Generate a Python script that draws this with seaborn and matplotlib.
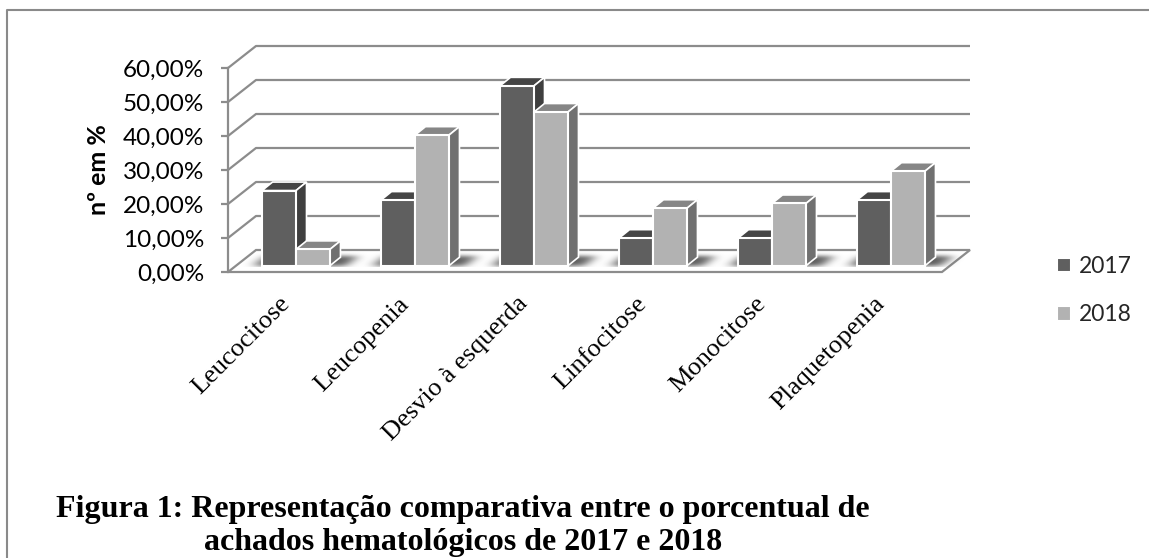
import numpy as np
import pandas as pd
import matplotlib
matplotlib.use("Agg")
import matplotlib.pyplot as plt
from matplotlib.lines import Line2D
from matplotlib.patches import Polygon
from matplotlib.transforms import ScaledTranslation
import seaborn as sns

categories = ["Leucocitose", "Leucopenia", "Desvio à esquerda",
              "Linfocitose", "Monocitose", "Plaquetopenia"]
years = ["2017", "2018"]
values_2017 = [22.1, 19.3, 52.9, 8.1, 8.1, 19.3]
values_2018 = [4.8, 38.4, 45.2, 16.9, 18.3, 27.8]
y_ticks = [0, 10, 20, 30, 40, 50, 60]
y_tick_labels = ["0,00%", "10,00%", "20,00%", "30,00%", "40,00%", "50,00%", "60,00%"]
caption_lines = ["Figura 1: Representação comparativa entre o porcentual de",
                 "achados hematológicos de 2017 e 2018"]

FRONT = {"2017": "#5f5f5f", "2018": "#b2b2b2"}
TOP = {"2017": "#454545", "2018": "#868686"}
SIDE = {"2017": "#3f3f3f", "2018": "#707070"}
GRID = "#8c8c8c"

W, H = 1149, 558
sns.set_theme(style="white")
plt.rcParams["font.family"] = ["Lato", "DejaVu Sans"]

df = pd.DataFrame({
    "categoria": categories * 2,
    "ano": [years[0]] * 6 + [years[1]] * 6,
    "valor": values_2017 + values_2018,
})

fig = plt.figure(figsize=(W / 100, H / 100), dpi=100, facecolor="white")
# Axes rectangle is the front plane of the 3D box, in pixels
L, R, T, B = 228, 942, 68, 272
ax = fig.add_axes([L / W, 1 - B / H, (R - L) / W, (B - T) / H])
ax.patch.set_alpha(0)

sns.barplot(data=df, x="categoria", y="valor", hue="ano", order=categories,
            hue_order=years, palette=FRONT, saturation=1, width=0.571, gap=0,
            edgecolor="white", linewidth=1.5, ax=ax)
ax.set_xlim(-0.5, 5.5)
ax.set_ylim(0, 60)

px_x = 1 / 119.0   # data units per pixel, horizontally
px_y = 1 / 3.4     # data units per pixel, vertically
depth_x, depth_y = 28 * px_x, 22 * px_y   # box depth
bar_dx, bar_dy = 8.5 * px_x, 6.3 * px_y   # bars stand mid-way on the floor
bar_sx, bar_sy = 10.5 * px_x, 8.5 * px_y  # bar depth

# Floor and back-wall lines
x0, x1 = -0.5, 5.5
floor = Polygon([(x0, 0), (x1, 0), (x1 + depth_x, depth_y), (x0 + depth_x, depth_y)],
                closed=True, facecolor="white", edgecolor=GRID, lw=1.6,
                clip_on=False, zorder=1)
ax.add_patch(floor)
for t in y_ticks[1:]:
    ax.plot([x0, x0 + depth_x, x1 + depth_x], [t, t + depth_y, t + depth_y],
            color=GRID, lw=1.6, clip_on=False, zorder=1.5, solid_capstyle="butt")

# Shift the seaborn bars onto the floor and extrude them
for z, year, container in zip((3, 4), years, ax.containers):
    for bar in container:
        bar.set_x(bar.get_x() + bar_dx)
        bar.set_y(bar_dy)
        bar.set_clip_on(False)
        bar.set_zorder(z + 0.5)
        xa, w, ya, h = bar.get_x(), bar.get_width(), bar.get_y(), bar.get_height()
        xb, yb = xa + w, ya + h
        top = Polygon([(xa, yb), (xb, yb), (xb + bar_sx, yb + bar_sy), (xa + bar_sx, yb + bar_sy)],
                      closed=True, facecolor=TOP[year], edgecolor="white", lw=1.2,
                      clip_on=False, zorder=z)
        side = Polygon([(xb, ya), (xb + bar_sx, ya + bar_sy), (xb + bar_sx, yb + bar_sy), (xb, yb)],
                       closed=True, facecolor=SIDE[year], edgecolor="white", lw=1.2,
                       clip_on=False, zorder=z)
        ax.add_patch(top)
        ax.add_patch(side)

# Soft floor shadow under each pair of bars: a blurred footprint on a pixel grid
sx0, sx1, sy0, sy1 = x0, x1 + depth_x, 0.0, depth_y
nx, ny = int((sx1 - sx0) / px_x), int((sy1 - sy0) / px_y)
gx, gy = np.meshgrid(sx0 + (np.arange(nx) + 0.5) * px_x, sy0 + (np.arange(ny) + 0.5) * px_y)
mask = np.zeros_like(gx)
for left_bar, right_bar in zip(ax.containers[0], ax.containers[1]):
    a = left_bar.get_x()
    b = right_bar.get_x() + right_bar.get_width()
    skew = (gy - bar_dy) * (bar_sx / bar_sy)
    band = (gy > bar_dy + 0 * px_y) & (gy < bar_dy + 10 * px_y)
    mask[band & (gx > a + skew - 8 * px_x) & (gx < b + skew + 16 * px_x)] = 1.0
kernel = np.exp(-0.5 * (np.arange(-18, 19) / 6.0) ** 2)
kernel /= kernel.sum()
blur = np.apply_along_axis(lambda r: np.convolve(r, kernel, mode="same"), 1, mask)
vkernel = np.exp(-0.5 * (np.arange(-6, 7) / 2.0) ** 2)
blur = np.apply_along_axis(lambda c: np.convolve(c, vkernel / vkernel.sum(), mode="same"), 0, blur)
blur[gy < bar_dy - 1 * px_y] = 0
shadow = np.zeros((ny, nx, 4))
shadow[..., :3] = 0.3
shadow[..., 3] = np.clip(blur * 0.9, 0, 1)
ax.imshow(shadow, extent=(sx0, sx1, sy0, sy1), origin="lower", aspect="auto",
          interpolation="bilinear", clip_on=False, zorder=1.8)
ax.set_xlim(x0, x1)
ax.set_ylim(0, 60)

# Axes furniture
for name in ("top", "right", "bottom"):
    ax.spines[name].set_visible(False)
ax.spines["left"].set_color(GRID)
ax.spines["left"].set_linewidth(1.6)
ax.set_yticks(y_ticks)
ax.set_yticklabels(y_tick_labels, fontsize=17.5, color="black")
ax.tick_params(axis="y", left=True, length=5, width=1.6, color=GRID, pad=12)
ax.set_xticks(range(len(categories)))
ax.set_xticklabels(categories, rotation=45, ha="right", va="top", rotation_mode="anchor",
                   fontsize=19, family="Liberation Serif", color="black")
ax.tick_params(axis="x", bottom=False, pad=9)
shift = ScaledTranslation(-9 / 100, 0, fig.dpi_scale_trans)
for lab in ax.get_xticklabels():
    lab.set_transform(lab.get_transform() + shift)
ax.set_xlabel("")
ax.set_ylabel("nº em %", fontsize=18, fontweight="bold", color="black")
ax.yaxis.set_label_coords((110 - L) / (R - L), 0.5)

sns.move_legend(ax, "upper left", bbox_to_anchor=((1057 - L) / (R - L), (B - 256) / (B - T)),
                title=None, frameon=False, fontsize=16.5, handlelength=0.62,
                handleheight=0.62, handletextpad=0.32, labelspacing=1.2, borderpad=0, borderaxespad=0)

# Frame: only the top and left edges fall inside the canvas
fig.add_artist(Line2D([6.5 / W, 6.5 / W, 1], [0, 1 - 10 / H, 1 - 10 / H],
                      transform=fig.transFigure, color="#8a8a8a", lw=1.5))

fig.text(462.5 / W, 1 - 517 / H, caption_lines[0], ha="center", va="baseline",
         family="Liberation Serif", fontweight="bold", fontsize=23, color="black")
fig.text(463 / W, 1 - 550 / H, caption_lines[1], ha="center", va="baseline",
         family="Liberation Serif", fontweight="bold", fontsize=23, color="black")

fig.savefig("out.png", dpi=100)
